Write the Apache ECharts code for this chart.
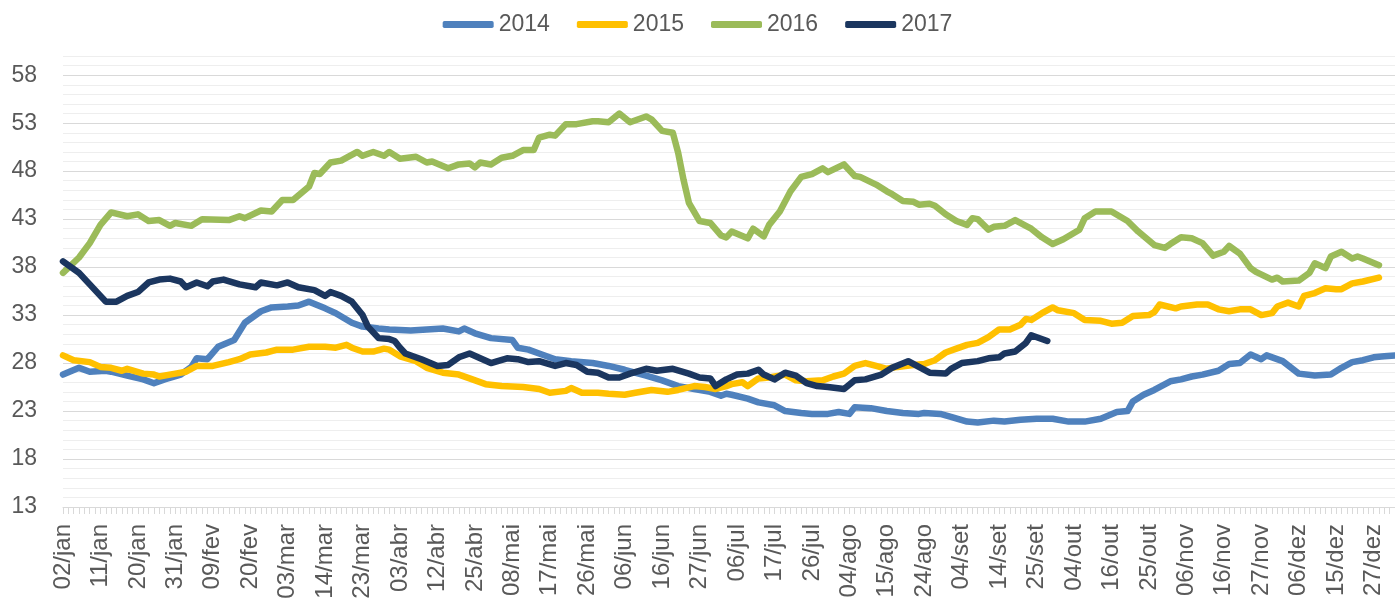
<!DOCTYPE html>
<html>
<head>
<meta charset="utf-8">
<script src="https://cdn.jsdelivr.net/npm/echarts@6/dist/echarts.min.js"></script>
<style>
  html, body { margin: 0; padding: 0; background: #fff; }
  #chart { width: 1395px; height: 601px; }
</style>
</head>
<body>
<div id="chart"></div>
<script>
  // rótulos mostrados a cada 7 dias úteis
  const tickLabels = ['02/jan', '11/jan', '20/jan', '31/jan', '09/fev', '20/fev', '03/mar', '14/mar',
    '23/mar', '03/abr', '12/abr', '25/abr', '08/mai', '17/mai', '26/mai', '06/jun', '16/jun', '27/jun',
    '06/jul', '17/jul', '26/jul', '04/ago', '15/ago', '24/ago', '04/set', '14/set', '25/set', '04/out',
    '16/out', '25/out', '06/nov', '16/nov', '27/nov', '06/dez', '15/dez', '27/dez'];
  const totalDias = 250;
  const years = ['2014', '2015', '2016', '2017'];
  const colors = ['#4F81BD', '#FFC000', '#9BBB59', '#1B365F'];

  // [dia útil, valor]
  const serie2014 = [[0, 26.8], [3, 27.5], [5, 27.1], [8, 27.2], [9, 27.1], [12, 26.7], [15, 26.3], [17, 25.9],
    [19, 26.3], [22, 26.8], [24, 27.6], [25, 28.5], [27, 28.4], [29, 29.7], [32, 30.4], [34, 32.2], [37, 33.4],
    [39, 33.8], [42, 33.9], [44, 34.0], [46, 34.4], [49, 33.7], [51, 33.2], [54, 32.2], [56, 31.8], [59, 31.6],
    [61, 31.5], [65, 31.4], [68, 31.5], [71, 31.6], [74, 31.3], [75, 31.6], [77, 31.1], [80, 30.6], [84, 30.4],
    [85, 29.6], [87, 29.4], [89, 29.0], [92, 28.4], [95, 28.2], [99, 28.0], [102, 27.7], [105, 27.3], [109, 26.7],
    [112, 26.2], [115, 25.6], [118, 25.3], [121, 25.0], [123, 24.6], [124, 24.8], [125, 24.7], [128, 24.3],
    [130, 23.9], [133, 23.6], [135, 23.0], [138, 22.8], [140, 22.7], [143, 22.7], [145, 22.9], [147, 22.7],
    [148, 23.4], [151, 23.3], [154, 23.0], [157, 22.8], [160, 22.7], [161, 22.8], [164, 22.7], [166, 22.4],
    [169, 21.9], [171, 21.8], [174, 22.0], [176, 21.9], [179, 22.1], [182, 22.2], [185, 22.2], [188, 21.9],
    [191, 21.9], [194, 22.2], [197, 22.9], [199, 23.0], [200, 24.0], [202, 24.7], [204, 25.2], [207, 26.1],
    [209, 26.3], [211, 26.6], [213, 26.8], [216, 27.2], [218, 27.9], [220, 28.0], [222, 28.9], [224, 28.4],
    [225, 28.8], [228, 28.2], [231, 26.9], [234, 26.7], [237, 26.8], [239, 27.5], [241, 28.1], [243, 28.3],
    [245, 28.6], [247, 28.7], [249, 28.8]];
  const serie2015 = [[0, 28.8], [2, 28.3], [5, 28.1], [7, 27.6], [9, 27.5], [11, 27.2], [12, 27.4], [15, 26.9],
    [17, 26.8], [18, 26.6], [21, 26.9], [23, 27.1], [25, 27.7], [28, 27.7], [31, 28.1], [33, 28.4], [35, 28.9],
    [38, 29.1], [40, 29.4], [43, 29.4], [46, 29.7], [49, 29.7], [51, 29.6], [53, 29.9], [54, 29.6], [56, 29.2],
    [58, 29.2], [60, 29.5], [61, 29.4], [63, 28.7], [66, 28.2], [68, 27.5], [71, 27.0], [74, 26.8], [76, 26.4],
    [79, 25.8], [82, 25.6], [86, 25.5], [89, 25.3], [91, 24.9], [94, 25.1], [95, 25.4], [97, 24.9], [100, 24.9],
    [102, 24.8], [105, 24.7], [107, 24.9], [110, 25.2], [113, 25.0], [115, 25.2], [118, 25.6], [120, 25.5],
    [122, 25.3], [124, 25.6], [125, 25.8], [127, 26.0], [128, 25.6], [130, 26.4], [132, 26.5], [135, 26.8],
    [137, 26.2], [139, 26.1], [142, 26.2], [144, 26.6], [146, 26.9], [148, 27.7], [150, 28.0], [152, 27.7],
    [154, 27.4], [156, 27.6], [159, 27.8], [161, 27.9], [163, 28.3], [165, 29.1], [167, 29.5], [169, 29.9],
    [171, 30.1], [173, 30.7], [175, 31.5], [177, 31.5], [179, 32.0], [180, 32.6], [181, 32.5], [183, 33.2],
    [185, 33.8], [186, 33.5], [189, 33.2], [191, 32.5], [194, 32.4], [196, 32.1], [198, 32.2], [200, 32.9],
    [203, 33.0], [204, 33.3], [205, 34.1], [208, 33.7], [209, 33.9], [212, 34.1], [214, 34.1], [216, 33.6],
    [218, 33.4], [220, 33.6], [222, 33.6], [224, 33.0], [226, 33.2], [227, 33.9], [229, 34.3], [231, 33.9],
    [232, 35.0], [234, 35.3], [236, 35.8], [238, 35.7], [239, 35.7], [241, 36.3], [243, 36.5], [246, 36.9]];
  const serie2016 = [[0, 37.4], [3, 39.0], [5, 40.5], [7, 42.4], [9, 43.7], [12, 43.3], [14, 43.5], [16, 42.8],
    [18, 42.9], [20, 42.3], [21, 42.6], [24, 42.3], [26, 43.0], [31, 42.9], [33, 43.3], [34, 43.1], [37, 43.9],
    [39, 43.8], [41, 45.0], [43, 45.0], [46, 46.4], [47, 47.8], [48, 47.7], [50, 48.9], [52, 49.1], [55, 50.0],
    [56, 49.6], [58, 50.0], [60, 49.6], [61, 50.0], [63, 49.3], [66, 49.5], [68, 48.9], [69, 49.0], [72, 48.3],
    [74, 48.7], [76, 48.8], [77, 48.4], [78, 48.9], [80, 48.7], [82, 49.4], [84, 49.6], [86, 50.2], [88, 50.2],
    [89, 51.5], [91, 51.8], [92, 51.7], [94, 52.9], [96, 52.9], [99, 53.2], [100, 53.2], [102, 53.1], [104, 54.0],
    [106, 53.1], [109, 53.7], [110, 53.4], [112, 52.2], [114, 52.0], [115, 49.9], [116, 47.1], [117, 44.7],
    [119, 42.8], [121, 42.6], [123, 41.3], [124, 41.1], [125, 41.7], [128, 41.0], [129, 42.0], [131, 41.2],
    [132, 42.4], [134, 43.8], [136, 45.9], [138, 47.4], [140, 47.7], [142, 48.3], [143, 47.9], [146, 48.7],
    [148, 47.5], [149, 47.4], [152, 46.6], [154, 45.9], [155, 45.6], [157, 44.9], [159, 44.8], [160, 44.5],
    [162, 44.6], [163, 44.4], [165, 43.5], [167, 42.8], [169, 42.4], [170, 43.1], [171, 43.0], [173, 41.9],
    [174, 42.2], [176, 42.3], [178, 42.9], [180, 42.3], [181, 42.0], [183, 41.1], [185, 40.4], [187, 40.9],
    [190, 41.9], [191, 43.1], [193, 43.8], [194, 43.8], [196, 43.8], [199, 42.8], [201, 41.7], [204, 40.3],
    [206, 40.0], [207, 40.4], [209, 41.1], [211, 41.0], [213, 40.5], [215, 39.2], [217, 39.6], [218, 40.2],
    [220, 39.4], [222, 37.9], [223, 37.5], [226, 36.7], [227, 36.9], [228, 36.5], [231, 36.6], [233, 37.4],
    [234, 38.4], [236, 37.9], [237, 39.1], [239, 39.6], [241, 38.9], [242, 39.1], [243, 38.9], [246, 38.2]];
  const serie2017 = [[0, 38.6], [3, 37.4], [5, 36.2], [7, 35.0], [8, 34.4], [10, 34.4], [12, 35.0], [14, 35.4],
    [16, 36.4], [18, 36.7], [20, 36.8], [22, 36.5], [23, 35.9], [25, 36.4], [27, 36.0], [28, 36.5], [30, 36.7],
    [33, 36.2], [36, 35.9], [37, 36.4], [40, 36.1], [42, 36.4], [44, 35.9], [47, 35.6], [49, 35.0], [50, 35.4],
    [52, 35.0], [54, 34.4], [56, 33.0], [57, 31.8], [59, 30.6], [61, 30.5], [62, 30.3], [63, 29.6], [64, 29.0],
    [67, 28.4], [70, 27.7], [72, 27.8], [74, 28.6], [76, 29.0], [78, 28.5], [80, 28.0], [83, 28.5], [85, 28.4],
    [87, 28.1], [89, 28.2], [92, 27.7], [94, 28.0], [96, 27.8], [98, 27.1], [100, 27.0], [102, 26.5], [104, 26.5],
    [106, 26.9], [109, 27.4], [111, 27.2], [114, 27.4], [117, 26.9], [119, 26.5], [121, 26.4], [122, 25.6],
    [124, 26.3], [126, 26.8], [128, 26.9], [130, 27.3], [131, 26.8], [133, 26.3], [135, 27.0], [137, 26.7],
    [139, 25.9], [141, 25.6], [143, 25.5], [146, 25.3], [148, 26.2], [150, 26.3], [153, 26.8], [155, 27.5],
    [158, 28.2], [160, 27.6], [162, 27.0], [165, 26.9], [166, 27.4], [168, 28.0], [171, 28.2], [173, 28.5],
    [175, 28.6], [176, 29.0], [178, 29.2], [180, 30.1], [181, 30.9], [184, 30.3]];

  const categories = [];
  for (let i = 0; i < totalDias; i++) {
    categories.push(i % 7 === 0 && tickLabels[i / 7] ? tickLabels[i / 7] : '');
  }

  const seriesData = [serie2014, serie2015, serie2016, serie2017];
  const font = 'Liberation Sans';

  const chart = echarts.init(document.getElementById('chart'));
  chart.setOption({
    animation: false,
    backgroundColor: '#ffffff',
    color: colors,
    legend: {
      top: 8,
      left: 'center',
      icon: 'roundRect',
      itemWidth: 51,
      itemHeight: 7,
      itemGap: 27,
      textStyle: {fontFamily: font, fontSize: 23, color: '#595959'},
      data: years
    },
    grid: {
      left: 63,
      right: 0,
      top: 56,
      bottom: 94,
      outerBoundsMode: 'none'
    },
    xAxis: {
      type: 'category',
      boundaryGap: false,
      data: categories,
      axisLine: {lineStyle: {color: '#d9d9d9', width: 1}},
      axisTick: {show: true, interval: 0, length: 7, lineStyle: {color: '#d9d9d9'}},
      axisLabel: {
        interval: 6,
        rotate: 90,
        margin: 17,
        fontFamily: font,
        fontSize: 24,
        color: '#595959'
      },
      splitLine: {show: false}
    },
    yAxis: {
      type: 'value',
      min: 13,
      max: 60,
      interval: 1,
      axisLine: {show: false},
      axisTick: {show: false},
      axisLabel: {
        margin: 26,
        fontFamily: font,
        fontSize: 23,
        color: '#595959',
        formatter: v => ((v - 13) % 5 === 0 && v <= 58 ? String(v) : '')
      },
      splitLine: {
        show: true,
        lineStyle: {color: ['#d9d9d9', '#eeeeee', '#eeeeee', '#eeeeee', '#eeeeee'], width: 1}
      }
    },
    series: years.map((name, k) => ({
      name: name,
      type: 'line',
      data: seriesData[k],
      showSymbol: false,
      symbol: 'none',
      lineStyle: {width: 6.5, cap: 'round', join: 'round'}
    }))
  });
</script>
</body>
</html>
